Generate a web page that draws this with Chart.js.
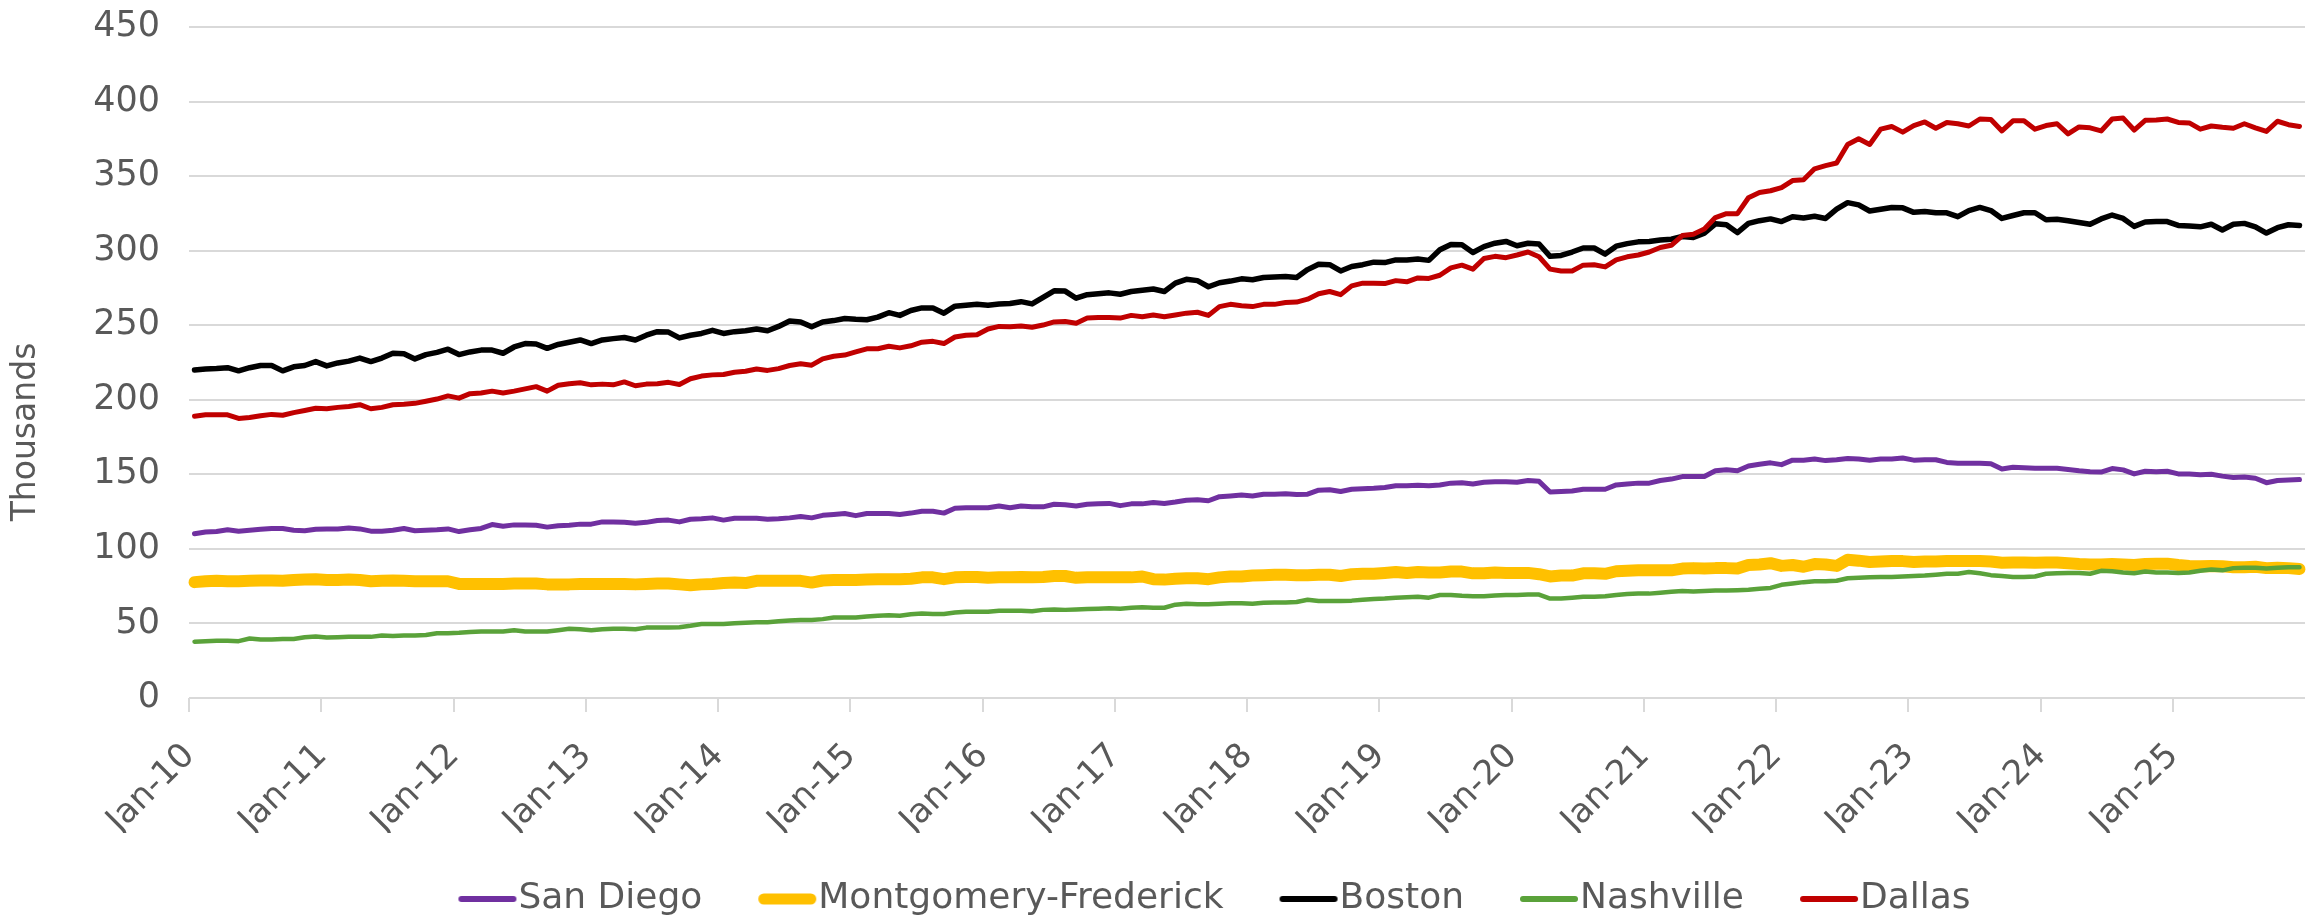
<!DOCTYPE html>
<html>
<head>
<meta charset="utf-8">
<script src="https://cdn.jsdelivr.net/npm/chart.js@4.4.1/dist/chart.umd.min.js"></script>
<style>
html,body{margin:0;padding:0;background:#ffffff;}
#wrap{width:2320px;height:923px;position:relative;}
canvas{display:block;}
</style>
</head>
<body>
<div id="wrap"><canvas id="chart" width="2320" height="923"></canvas></div>
<script>
// ---- Data (thousands), monthly Jan 2010 – Dec 2025 ----
const years = [2010,2011,2012,2013,2014,2015,2016,2017,2018,2019,2020,2021,2022,2023,2024,2025];
const monthNames = ['Jan','Feb','Mar','Apr','May','Jun','Jul','Aug','Sep','Oct','Nov','Dec'];
const categories = [];
years.forEach(y => monthNames.forEach(m => categories.push(m + '-' + String(y).slice(2))));

const tickLabels = ['Jan-10','Jan-11','Jan-12','Jan-13','Jan-14','Jan-15','Jan-16','Jan-17',
                    'Jan-18','Jan-19','Jan-20','Jan-21','Jan-22','Jan-23','Jan-24','Jan-25'];
const yTicks = [0,50,100,150,200,250,300,350,400,450];

const sanDiego = [
110.1,111.3,111.6,112.8,111.9,112.5,113.1,113.7,113.7,112.5,112.2,113.1,
113.4,113.4,114.0,113.4,111.9,111.9,112.5,113.7,112.2,112.5,112.8,113.4,
111.6,112.8,113.7,116.3,115.2,116.1,116.1,115.8,114.6,115.5,115.8,116.6,
116.6,118.1,118.1,117.8,117.2,117.8,119.0,119.3,118.1,119.9,120.2,120.8,
119.3,120.5,120.5,120.5,119.9,120.2,120.8,121.7,120.8,122.5,123.1,123.7,
122.3,123.7,123.7,123.7,123.1,124.0,125.2,125.2,124.0,127.3,127.6,127.6,
127.6,128.8,127.6,128.8,128.2,128.2,129.9,129.6,128.8,129.9,130.2,130.5,
129.0,130.2,130.2,131.1,130.5,131.4,132.6,132.9,132.3,135.0,135.5,136.1,
135.5,136.7,136.7,137.0,136.4,136.7,139.4,139.7,138.5,140.0,140.3,140.6,
141.2,142.3,142.3,142.6,142.3,142.9,144.1,144.4,143.5,144.7,145.0,145.0,
144.7,145.9,145.3,138.2,138.5,138.8,140.0,140.0,140.0,142.9,143.5,144.1,
144.1,145.9,146.8,148.5,148.5,148.5,152.4,153.0,152.4,155.6,156.8,157.7,
156.5,159.5,159.5,160.3,159.2,159.8,160.6,160.3,159.5,160.3,160.3,160.9,
159.5,159.8,159.8,158.0,157.4,157.4,157.4,157.1,153.6,154.7,154.4,154.1,
154.1,154.1,153.3,152.4,151.8,151.5,153.9,153.0,150.3,152.1,151.8,152.1,
150.3,150.3,149.7,150.0,148.8,147.9,148.2,147.4,144.4,145.9,146.2,146.5
];
const montgomeryFrederick = [
77.7,78.3,78.6,78.3,78.3,78.6,78.8,78.8,78.6,79.1,79.4,79.7,
79.1,79.1,79.4,79.1,78.3,78.6,78.8,78.6,78.3,78.3,78.3,78.3,
76.5,76.5,76.5,76.5,76.5,76.8,76.8,76.8,76.2,76.2,76.2,76.5,
76.5,76.5,76.5,76.5,76.2,76.5,76.8,76.8,76.2,75.6,76.2,76.5,
77.1,77.4,77.1,78.6,78.6,78.6,78.6,78.6,77.4,78.8,79.1,79.1,
79.1,79.4,79.7,79.7,79.7,80.0,80.9,80.9,79.7,80.9,81.2,81.2,
80.6,80.9,80.9,81.2,80.9,81.2,81.8,81.8,80.6,80.9,80.9,80.9,
80.9,80.9,81.5,79.7,79.4,80.0,80.3,80.3,79.7,80.9,81.5,81.5,
82.1,82.4,82.7,82.7,82.4,82.4,82.7,82.7,81.8,83.0,83.3,83.3,
83.9,84.5,83.9,84.5,84.2,84.2,84.8,84.8,83.6,83.6,84.2,83.9,
83.9,83.9,83.0,81.5,82.1,82.1,83.6,83.6,83.3,85.0,85.3,85.6,
85.6,85.6,85.6,86.8,87.1,86.8,87.1,87.1,86.8,89.2,89.5,90.4,
88.6,89.2,88.0,89.8,89.5,88.6,92.7,92.1,91.2,91.5,91.8,91.8,
91.2,91.5,91.5,91.8,91.8,91.8,91.8,91.5,90.7,90.9,90.9,90.7,
90.9,90.9,90.4,89.8,89.5,89.5,89.8,89.5,89.2,89.8,90.1,90.1,
89.2,88.6,88.3,88.6,88.3,87.7,87.7,88.0,87.1,87.4,87.1,86.5
];
const boston = [
220.0,220.6,220.9,221.5,219.4,221.5,223.0,223.0,219.4,222.1,223.0,225.6,
222.7,224.7,225.9,228.0,225.6,228.0,231.2,230.9,227.4,230.3,231.8,233.9,
230.3,232.1,233.3,233.3,231.2,235.4,237.7,237.4,234.5,237.1,238.6,240.1,
237.7,240.1,241.0,241.8,240.1,243.3,245.7,245.4,241.5,243.3,244.5,246.6,
244.5,245.7,246.3,247.5,246.3,249.2,252.8,252.2,248.9,252.2,253.1,254.5,
254.0,253.7,255.4,258.4,256.6,259.9,261.6,261.6,258.1,262.8,263.4,264.0,
263.4,264.3,264.6,265.8,264.3,268.7,273.1,272.9,268.1,270.5,271.1,271.7,
270.8,272.6,273.4,274.3,272.6,278.2,280.8,279.9,275.8,278.5,279.6,281.1,
280.5,282.0,282.3,282.6,282.0,287.3,290.9,290.6,286.4,289.4,290.6,292.3,
292.0,293.8,293.8,294.4,293.5,300.6,304.2,303.9,298.8,302.7,305.0,306.2,
303.3,305.0,304.5,296.2,296.8,299.1,301.8,301.8,297.7,303.0,304.7,305.9,
306.2,307.1,307.7,309.5,308.9,311.8,318.0,317.4,312.1,318.3,320.1,321.3,
319.5,322.8,321.9,323.1,321.6,327.8,332.2,330.7,326.6,327.8,329.0,328.7,
325.7,326.3,325.4,325.4,322.8,326.9,329.0,326.9,321.6,323.6,325.4,325.4,
320.7,321.0,320.1,318.9,317.7,321.3,323.9,321.6,316.3,319.2,319.5,319.5,
316.9,316.6,316.0,317.7,313.9,317.7,318.3,316.0,311.8,315.4,317.4,316.9
];
const nashville = [
37.8,38.1,38.4,38.4,38.1,39.9,39.3,39.3,39.6,39.6,40.8,41.3,
40.5,40.8,41.0,41.0,41.0,41.9,41.6,41.9,41.9,42.2,43.4,43.4,
43.7,44.3,44.6,44.6,44.6,45.5,44.6,44.6,44.6,45.5,46.4,46.1,
45.5,46.1,46.4,46.4,46.1,47.2,47.2,47.2,47.5,48.4,49.6,49.6,
49.6,50.2,50.5,50.8,50.8,51.4,52.0,52.3,52.3,52.9,54.0,54.0,
54.0,54.6,55.2,55.5,55.2,56.1,56.7,56.4,56.4,57.3,57.9,57.9,
57.9,58.5,58.5,58.5,58.2,59.1,59.4,59.1,59.4,59.7,59.9,60.2,
59.9,60.5,60.8,60.5,60.5,62.6,63.2,62.9,62.9,63.2,63.5,63.5,
63.2,63.8,64.1,64.1,64.4,65.9,65.0,65.0,65.0,65.3,65.9,66.4,
66.7,67.3,67.6,67.9,67.3,69.1,69.1,68.5,68.2,68.2,68.8,69.1,
69.1,69.4,69.4,66.7,66.7,67.3,67.9,67.9,68.2,69.1,69.7,70.0,
70.0,70.6,71.2,71.8,71.5,71.8,72.1,72.1,72.3,72.6,73.2,73.8,
75.9,76.8,77.7,78.3,78.3,78.6,80.3,80.6,80.9,81.2,81.2,81.5,
81.8,82.1,82.7,83.3,83.3,84.5,83.6,82.4,81.8,81.2,81.2,81.5,
83.3,83.6,83.9,83.9,83.3,85.3,85.0,84.2,83.6,84.8,84.2,84.2,
83.9,84.2,85.3,86.2,85.6,87.1,87.4,87.4,86.8,87.4,87.7,87.7
];
const dallas = [
189.0,189.9,189.9,189.9,187.5,188.1,189.3,190.2,189.6,191.4,192.8,194.3,
194.0,194.9,195.5,196.7,194.0,194.9,196.7,197.0,197.6,199.0,200.5,202.6,
201.1,204.1,204.6,205.8,204.6,205.8,207.3,208.8,205.8,209.7,210.8,211.4,
210.0,210.5,210.0,212.0,209.4,210.5,210.8,211.7,210.3,214.1,215.9,216.7,
217.0,218.5,219.1,220.6,219.7,220.9,223.0,224.1,223.2,227.4,229.2,230.0,
232.1,234.2,234.2,235.9,234.8,236.2,238.6,239.2,237.7,242.1,243.3,243.6,
247.5,249.2,248.9,249.5,248.6,250.1,252.2,252.5,251.3,254.8,255.1,255.1,
254.8,256.6,255.7,256.9,255.7,256.9,258.1,258.7,256.6,262.5,264.0,263.1,
262.5,264.0,264.0,265.2,265.5,267.5,271.1,272.6,270.5,276.4,278.2,278.2,
277.9,279.9,279.1,281.7,281.4,283.5,288.5,290.3,287.6,294.7,296.2,295.3,
297.1,299.1,295.9,287.6,286.4,286.4,290.3,290.6,289.1,293.8,295.9,297.1,
299.1,302.1,303.6,310.1,311.0,314.5,322.2,324.8,324.8,335.5,339.0,340.2,
342.3,347.0,347.6,354.9,357.0,358.8,371.2,375.0,371.2,381.5,383.3,379.5,
383.9,386.3,382.1,386.0,385.1,383.6,388.3,388.0,380.3,387.1,387.1,381.5,
383.9,385.1,378.3,383.0,382.4,380.3,388.3,388.9,380.9,387.4,387.7,388.3,
386.0,385.7,381.5,383.6,382.7,382.1,385.1,382.4,380.0,386.8,384.5,383.3
];

const seriesNames = ['San Diego','Montgomery-Frederick','Boston','Nashville','Dallas'];
const seriesData = [sanDiego, montgomeryFrederick, boston, nashville, dallas];
const seriesColors = ['#7030A0','#FFC000','#000000','#5AA23A','#C00000'];
const seriesWidths = [5,12,5.5,4.5,5];
const legendWidths = [6,11,6,6,6];

const TEXT = '#595959';
const GRID = '#d9d9d9';

// legend line sample: a short round-capped line that ends just before the label text
function makeLegendSample(color, width) {
  const c = document.createElement('canvas');
  c.width = 100; c.height = 24;
  const g = c.getContext('2d');
  g.strokeStyle = color;
  g.lineWidth = width;
  g.lineCap = 'round';
  g.beginPath();
  g.moveTo(33 + width / 2, 12);
  g.lineTo(91 - width / 2, 12);
  g.stroke();
  return c;
}

const yTitlePlugin = {
  id: 'yTitle',
  afterDraw(chart) {
    const ctx = chart.ctx;
    ctx.save();
    ctx.translate(26, 432);
    ctx.rotate(-Math.PI / 2);
    ctx.font = '33px "DejaVu Sans"';
    ctx.fillStyle = TEXT;
    ctx.textAlign = 'center';
    ctx.textBaseline = 'middle';
    ctx.fillText('Thousands', 0, 0);
    ctx.restore();
  }
};

// place the legend block (centre shifted like the reference)
const legendShiftPlugin = {
  id: 'legendShift',
  afterLayout(chart) {
    const lg = chart.legend;
    if (!lg) return;
    lg.left = 116;
    lg.right = 2305;
    lg.width = lg.right - lg.left;
  }
};

new Chart(document.getElementById('chart'), {
  type: 'line',
  data: {
    labels: categories,
    datasets: seriesNames.map((name, i) => ({
      label: name,
      data: seriesData[i],
      borderColor: seriesColors[i],
      backgroundColor: seriesColors[i],
      borderWidth: seriesWidths[i],
      borderCapStyle: 'round',
      borderJoinStyle: 'round',
      pointStyle: makeLegendSample(seriesColors[i], legendWidths[i]),
      pointRadius: 0,
      pointHoverRadius: 0,
      tension: 0,
      fill: false,
      order: -i
    }))
  },
  options: {
    responsive: false,
    animation: false,
    devicePixelRatio: 1,
    layout: { padding: { left: 0, right: 15, top: 27, bottom: -4 } },
    plugins: {
      tooltip: { enabled: false },
      legend: {
        position: 'bottom',
        labels: {
          usePointStyle: true,
          pointStyleWidth: 50,
          boxHeight: 36,
          padding: 48,
          color: TEXT,
          font: { family: 'DejaVu Sans', size: 36 },
          sort: (a, b) => a.datasetIndex - b.datasetIndex
        }
      }
    },
    scales: {
      x: {
        type: 'category',
        offset: true,
        afterFit: s => { s.height = 135; s.paddingLeft = 0; s.paddingRight = 0; },
        grid: {
          offset: true,
          drawOnChartArea: false,
          drawTicks: true,
          tickLength: 14,
          lineWidth: 2,
          color: c => (c.index % 12 === 0 ? GRID : 'rgba(0,0,0,0)')
        },
        border: { display: false },
        ticks: {
          autoSkip: false,
          minRotation: 45,
          maxRotation: 45,
          padding: 24,
          labelOffset: -5,
          color: TEXT,
          font: { family: 'DejaVu Sans', size: 34 },
          callback: (v, i) => (i % 12 === 0 ? tickLabels[i / 12] : '')
        }
      },
      y: {
        min: 0,
        max: 450,
        afterFit: s => { s.width = 189; s.paddingTop = 0; s.paddingBottom = 0; },
        afterBuildTicks: s => { s.ticks = yTicks.map(v => ({ value: v })); },
        grid: { color: GRID, lineWidth: 2, drawTicks: false },
        border: { display: false },
        ticks: {
          stepSize: 50,
          padding: 29,
          color: TEXT,
          font: { family: 'DejaVu Sans', size: 35 }
        }
      }
    }
  },
  plugins: [yTitlePlugin, legendShiftPlugin]
});
</script>
</body>
</html>
